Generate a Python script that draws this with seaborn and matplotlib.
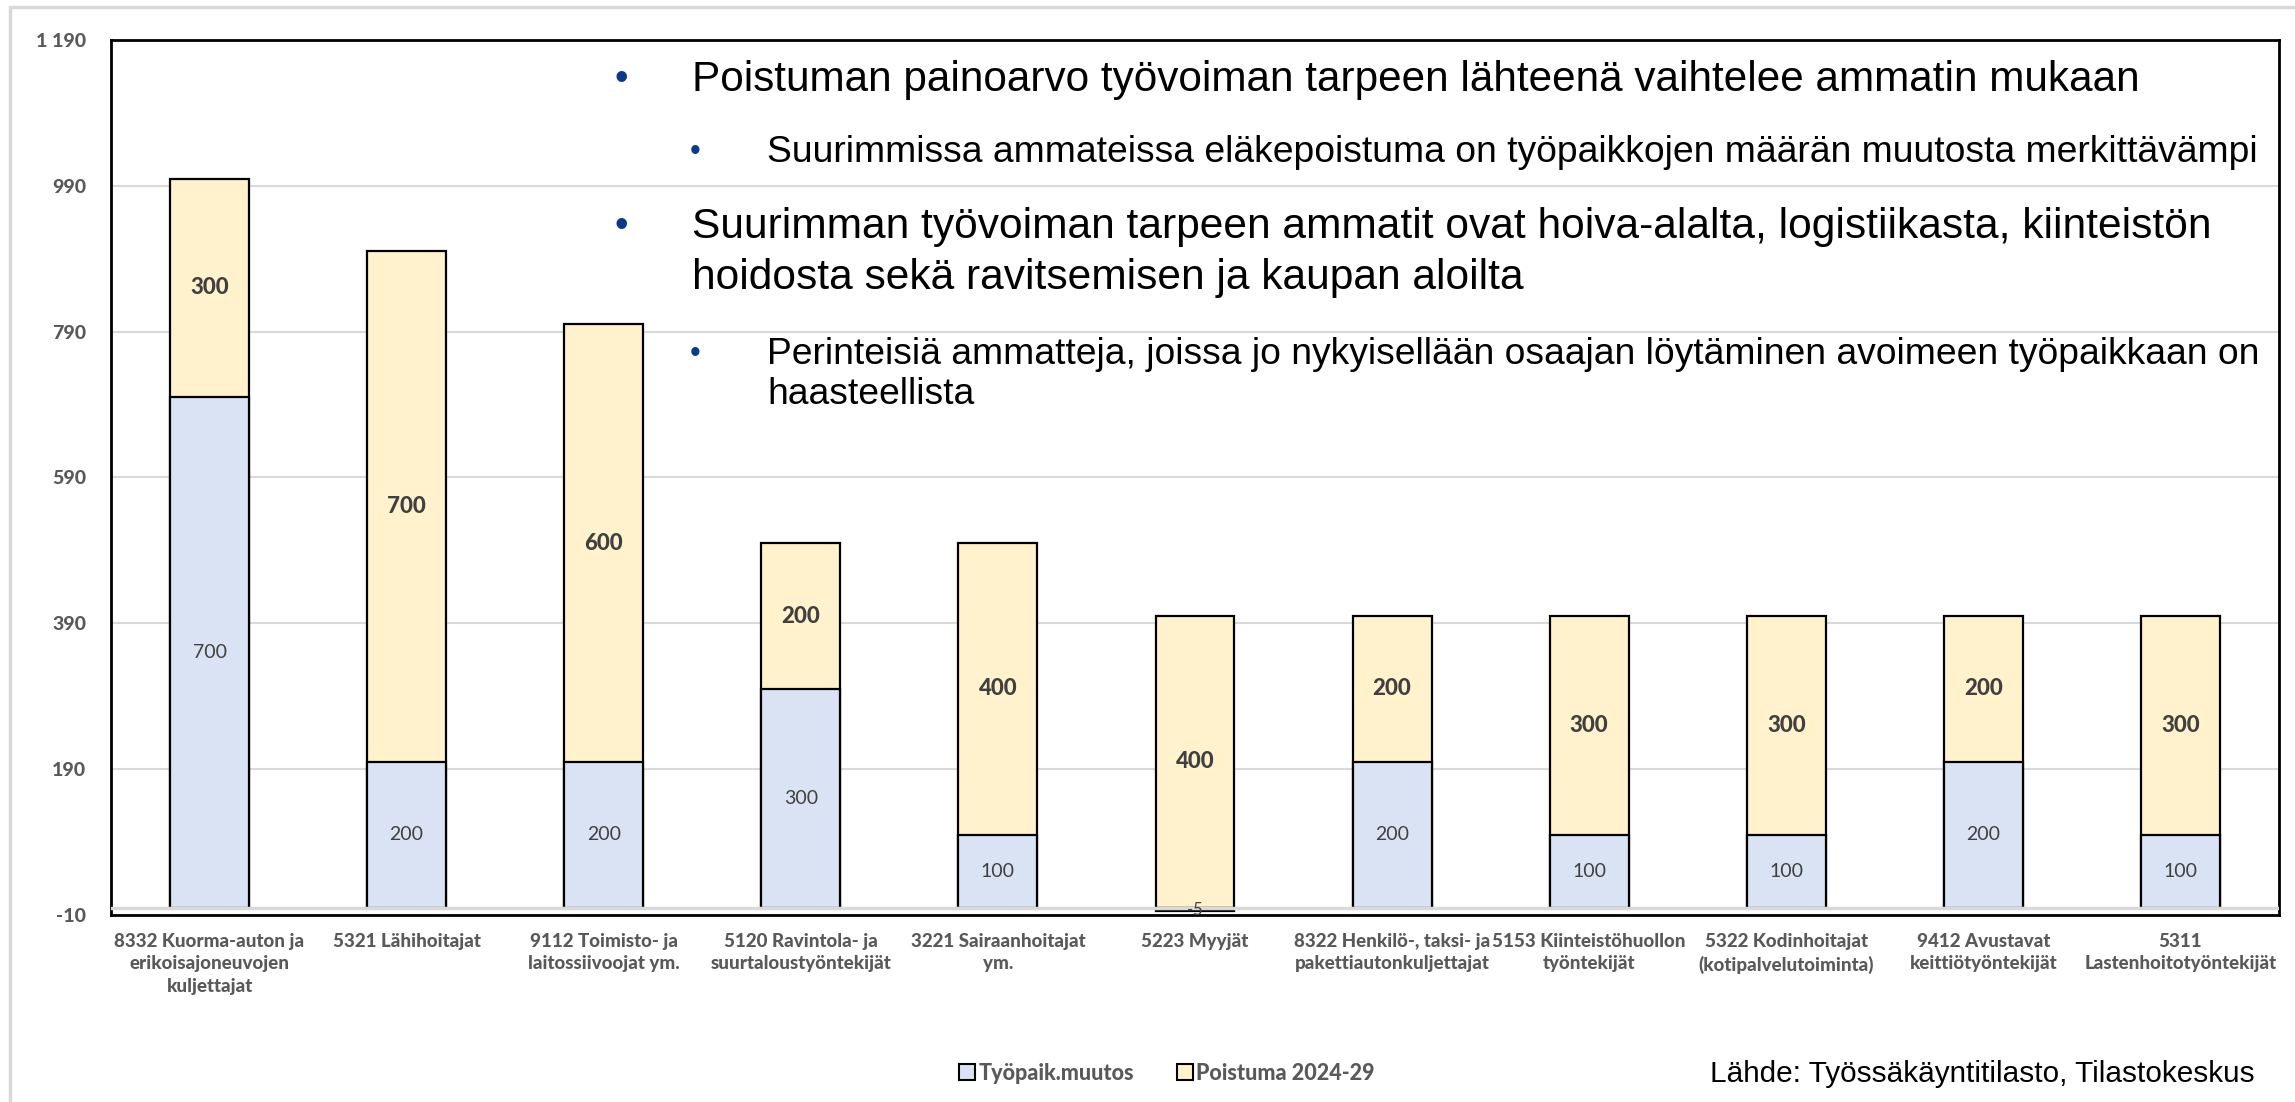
import matplotlib
matplotlib.use("Agg")
import matplotlib.pyplot as plt
import seaborn as sns
import pandas as pd
from matplotlib.lines import Line2D
from matplotlib.patches import Rectangle

categories = [
    "8332 Kuorma-auton ja\nerikoisajoneuvojen\nkuljettajat",
    "5321 Lähihoitajat",
    "9112 Toimisto- ja\nlaitossiivoojat ym.",
    "5120 Ravintola- ja\nsuurtaloustyöntekijät",
    "3221 Sairaanhoitajat\nym.",
    "5223 Myyjät",
    "8322 Henkilö-, taksi- ja\npakettiautonkuljettajat",
    "5153 Kiinteistöhuollon\ntyöntekijät",
    "5322 Kodinhoitajat\n(kotipalvelutoiminta)",
    "9412 Avustavat\nkeittiötyöntekijät",
    "5311\nLastenhoitotyöntekijät",
]
tyopaik_muutos = [700, 200, 200, 300, 100, -5, 200, 100, 100, 200, 100]
poistuma = [300, 700, 600, 200, 400, 400, 200, 300, 300, 200, 300]
series_names = ["Työpaik.muutos", "Poistuma 2024-29"]
y_ticks = [-10, 190, 390, 590, 790, 990, 1190]
y_tick_labels = ["-10", "190", "390", "590", "790", "990", "1 190"]

BLUE = "#DAE3F3"
YELLOW = "#FFF2CC"
GRAY_TXT = "#595959"
GRID = "#D9D9D9"

df = pd.DataFrame({
    "cat": categories,
    "blue": tyopaik_muutos,
    "yellow": poistuma,
})
df["top"] = df["blue"].clip(lower=0) + df["yellow"]

sns.set_theme(style="white")
plt.rcParams["font.family"] = ["Lato", "DejaVu Sans"]

fig = plt.figure(figsize=(22.95, 11.02), dpi=100)
ax = fig.add_axes([111 / 2295, 1 - 915 / 1102, (2279 - 111) / 2295, (915 - 40) / 1102])

sns.barplot(data=df, x="cat", y="top", color=YELLOW, saturation=1, width=0.4,
            edgecolor="black", linewidth=1.6, ax=ax, zorder=2)
sns.barplot(data=df, x="cat", y="blue", color=BLUE, saturation=1, width=0.4,
            edgecolor="black", linewidth=1.6, ax=ax, zorder=3)

ax.axhline(0, color=GRID, lw=2.5, zorder=4)

ax.set_ylim(-10, 1190)
ax.set_xlim(-0.5, len(categories) - 0.5)
ax.set_yticks(y_ticks)
ax.set_yticklabels(y_tick_labels, fontsize=14, fontweight="black", color=GRAY_TXT)
ax.set_xticks(range(len(categories)))
ax.set_xticklabels(categories, fontsize=13.5, fontweight="black", color=GRAY_TXT,
                   linespacing=1.38, va="top")
ax.tick_params(axis="both", length=0)
ax.tick_params(axis="y", pad=18)
ax.tick_params(axis="x", pad=13)
ax.set_xlabel("")
ax.set_ylabel("")
ax.yaxis.grid(True, color=GRID, lw=1.5, zorder=0)
ax.set_axisbelow(True)
for s in ax.spines.values():
    s.set_visible(True)
    s.set_color("black")
    s.set_linewidth(2)

# segment labels
for i, (b, p) in enumerate(zip(tyopaik_muutos, poistuma)):
    ax.text(i, max(b, 0) + p / 2, f"{p}", ha="center", va="center",
            fontsize=16, fontweight="black", color="#404040", zorder=5)
    if b >= 50:
        ax.text(i, b / 2, f"{b}", ha="center", va="center",
                fontsize=14, color="#404040", zorder=5)
    else:
        ax.text(i, b / 2, f"{b}", ha="center", va="center",
                fontsize=12, color="#404040", zorder=5)

# bullet text block
BUL = "#0B3A8A"
tf = ["Liberation Sans", "DejaVu Sans"]
def put(x, y, s, size, color="black"):
    fig.text(x / 2295, 1 - y / 1102, s, fontsize=size, va="center", ha="left",
             family=tf, color=color)

put(615, 80, "•", 28, BUL)
put(692, 80, "Poistuman painoarvo työvoiman tarpeen lähteenä vaihtelee ammatin mukaan", 30.4)
put(690, 152, "•", 22, BUL)
put(767, 152, "Suurimmissa ammateissa eläkepoistuma on työpaikkojen määrän muutosta merkittävämpi", 26.8)
put(615, 227, "•", 28, BUL)
put(692, 227, "Suurimman työvoiman tarpeen ammatit ovat hoiva-alalta, logistiikasta, kiinteistön", 30.6)
put(692, 278, "hoidosta sekä ravitsemisen ja kaupan aloilta", 30.6)
put(690, 354, "•", 22, BUL)
put(767, 354, "Perinteisiä ammatteja, joissa jo nykyisellään osaajan löytäminen avoimeen työpaikkaan on", 26.8)
put(767, 395, "haasteellista", 26.8)

# legend
handles = [Rectangle((0, 0), 1, 1, facecolor=BLUE, edgecolor="black", lw=1.5),
           Rectangle((0, 0), 1, 1, facecolor=YELLOW, edgecolor="black", lw=1.5)]
leg = fig.legend(handles, series_names, loc="center", bbox_to_anchor=(1167 / 2295, 1 - 1073 / 1102),
                 ncol=2, frameon=False, handlelength=0.75, handleheight=0.75, handletextpad=0.15,
                 columnspacing=2.0, prop={"size": 15.5, "weight": "black"})
for t in leg.get_texts():
    t.set_color(GRAY_TXT)

fig.text(1710 / 2295, 1 - 1074 / 1102, "Lähde: Työssäkäyntitilasto, Tilastokeskus",
         fontsize=21.4, family=tf, va="center", ha="left", color="black")

# outer frame lines (left and top)
fig.add_artist(Line2D([10 / 2295, 10 / 2295], [0, 1 - 7 / 1102], color=GRID, lw=2.5, transform=fig.transFigure))
fig.add_artist(Line2D([10 / 2295, 1], [1 - 7 / 1102, 1 - 7 / 1102], color=GRID, lw=2.5, transform=fig.transFigure))

fig.savefig("out.png", dpi=100, facecolor="white")
